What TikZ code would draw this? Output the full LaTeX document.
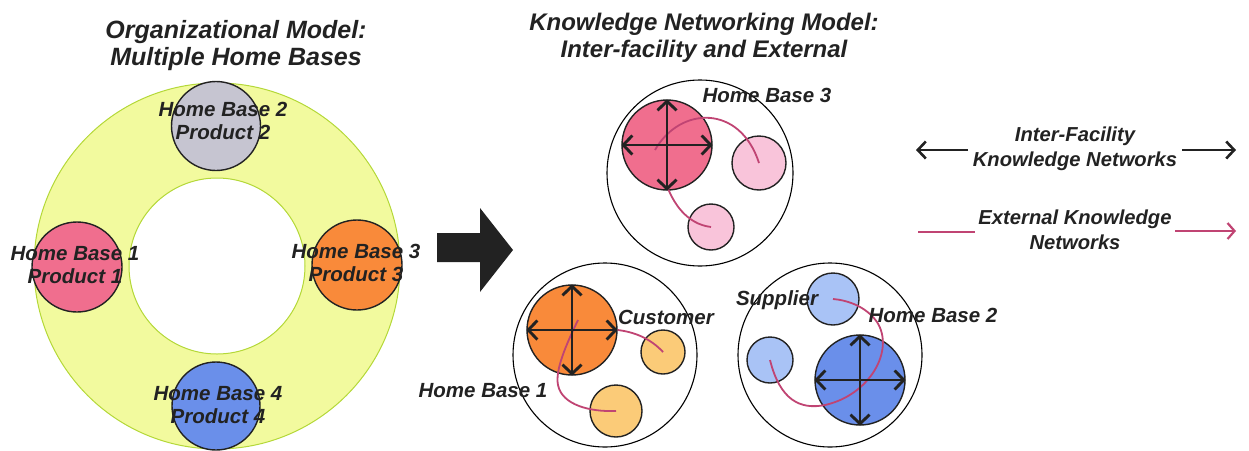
\documentclass[tikz,border=0pt]{standalone}
\usepackage{fontspec}
\setmainfont{Liberation Sans}
\usetikzlibrary{arrows.meta}

\definecolor{ringfill}{HTML}{F2FA9E}
\definecolor{ringline}{HTML}{B4D838}
\definecolor{hbpink}{HTML}{F06E8E}
\definecolor{hbgrey}{HTML}{C6C5D1}
\definecolor{hborange}{HTML}{F98A3A}
\definecolor{hbblue}{HTML}{6A8FEA}
\definecolor{ltpink}{HTML}{F9C4DA}
\definecolor{ltorange}{HTML}{FBCB78}
\definecolor{ltblue}{HTML}{A9C3F6}
\definecolor{extlink}{HTML}{C04473}
\definecolor{ink}{HTML}{222222}

\tikzset{
  base/.style={circle, draw=ink, line width=1.4pt, inner sep=0pt, minimum size=#1},
  cluster/.style={circle, draw=black, line width=1.1pt, inner sep=0pt, minimum size=#1},
  hblabel/.style={align=center, text=ink, font=\fontsize{20.5}{23.5}\selectfont\bfseries\itshape},
  tag/.style={text=ink, font=\fontsize{20.5}{23.5}\selectfont\bfseries\itshape},
  title/.style={align=center, text=ink, font=\fontsize{25}{27}\selectfont\bfseries\itshape},
  rtitle/.style={align=center, text=ink, font=\fontsize{24}{27}\selectfont\bfseries\itshape},
  legend/.style={align=center, text=ink, font=\fontsize{20.2}{25}\selectfont\bfseries\itshape},
  interlink/.style={draw=ink, line width=2.9pt, {Straight Barb[length=9pt,width=19pt]}-{Straight Barb[length=9pt,width=19pt]}},
  extcurve/.style={draw=extlink, line width=1.8pt},
}

\begin{document}
\begin{tikzpicture}[x=1pt, y=-1pt]
\useasboundingbox (0,0) rectangle (1249,450);

% ---------- left: ring of home bases ----------
\coordinate (ringc) at (217,266);
\fill[ringfill, even odd rule] (ringc) circle[radius=183pt] (ringc) circle[radius=88pt];
\draw[ringline, line width=1pt] (ringc) circle[radius=183pt];
\draw[ringline, line width=1pt] (ringc) circle[radius=88pt];

\node[base=89pt, fill=hbgrey]   (hb2) at (216,126) {};
\node[base=90pt, fill=hbpink]   (hb1) at (77,267)  {};
\node[base=90pt, fill=hborange] (hb3) at (357,265) {};
\node[base=88pt, fill=hbblue]   (hb4) at (216,406) {};

\node[hblabel] (lhb2) at (223,121) {Home Base 2\\Product 2};
\node[hblabel] (lhb1) at (75,265)  {Home Base 1\\Product 1};
\node[hblabel] (lhb3) at (356,263) {Home Base 3\\Product 3};
\node[hblabel] (lhb4) at (218,405) {Home Base 4\\Product 4};

\node[title] (tleft) at (236,46) {Organizational Model:\\Multiple Home Bases};

% ---------- block arrow ----------
\fill[ink] (437,233) -- (480,233) -- (480,208) -- (513,250) -- (480,292) -- (480,262) -- (437,262) -- cycle;

% ---------- right: knowledge networks ----------
\node[rtitle] (tright) at (704,38) {Knowledge Networking Model:\\Inter-facility and External};

% cluster around Home Base 3
\node[cluster=186pt] (k3) at (700,173) {};
\node[base=90pt, fill=hbpink] (k3m) at (667,145) {};
\node[base=54pt, fill=ltpink] (k3a) at (759,163) {};
\node[base=46pt, fill=ltpink] (k3b) at (711,227) {};
\coordinate (k3s1) at (655,150);
\coordinate (k3s2) at (667,186);
\draw[extcurve] (k3s1) .. controls (680,106) and (740,104) .. (k3a.center);
\draw[extcurve] (k3s2) .. controls (673,202) and (686,224) .. (k3b.center);
\draw[interlink] (k3m.west) -- (k3m.east);
\draw[interlink] (k3m.north) -- (k3m.south);
\node[tag] (t3) at (767,95) {Home Base 3};

% cluster around Home Base 1
\node[cluster=184pt] (k1) at (605,355) {};
\node[base=90pt, fill=hborange] (k1m) at (572,330) {};
\node[base=44pt, fill=ltorange] (k1a) at (663,352) {};
\node[base=52pt, fill=ltorange] (k1b) at (616,411) {};
\coordinate (k1s2) at (578,320);
\draw[extcurve] (k1m.east) .. controls (634,332) and (650,338) .. (k1a.center);
\draw[extcurve] (k1s2) .. controls (566,345) and (555,370) .. (558,385) .. controls (562,405) and (590,412) .. (k1b.center);
\draw[interlink] (k1m.west) -- (k1m.east);
\draw[interlink] (k1m.north) -- (k1m.south);
\node[tag] (tcust) at (666,317) {Customer};
\node[tag] (t1) at (483,391) {Home Base 1};

% cluster around Home Base 2
\node[cluster=184pt] (k2) at (830,355) {};
\node[base=90pt, fill=hbblue] (k2m) at (860,380) {};
\node[base=52pt, fill=ltblue] (k2a) at (833,299) {};
\node[base=46pt, fill=ltblue] (k2b) at (770,360) {};
\draw[extcurve] (k2b.center) .. controls (780,400) and (800,410) .. (825,405)
  .. controls (870,395) and (895,350) .. (877,322) .. controls (865,305) and (845,300) .. (k2a.center);
\draw[interlink] (k2m.west) -- (k2m.east);
\draw[interlink] (k2m.north) -- (k2m.south);
\node[tag] (tsup) at (777,300) {Supplier};
\node[tag] (t2) at (933,315) {Home Base 2};

% ---------- legend ----------
\node[legend] (leg1) at (1075,149) {Inter-Facility\\Knowledge Networks};
\coordinate (l1a) at (968,150);
\coordinate (l1b) at (916,150);
\coordinate (l1c) at (1182,150);
\coordinate (l1d) at (1236,150);
\draw[draw=ink, line width=2.6pt, -{Straight Barb[length=8pt,width=17pt]}] (l1a) -- (l1b);
\draw[draw=ink, line width=2.6pt, -{Straight Barb[length=8pt,width=17pt]}] (l1c) -- (l1d);

\node[legend] (leg2) at (1075,230) {External Knowledge\\Networks};
\coordinate (l2a) at (918,232);
\coordinate (l2b) at (975,232);
\coordinate (l2c) at (1175,231);
\coordinate (l2d) at (1236,231);
\draw[extlink, line width=2.2pt] (l2a) -- (l2b);
\draw[extlink, line width=2.2pt, -{Straight Barb[length=7pt,width=16pt]}] (l2c) -- (l2d);
\end{tikzpicture}
\end{document}
